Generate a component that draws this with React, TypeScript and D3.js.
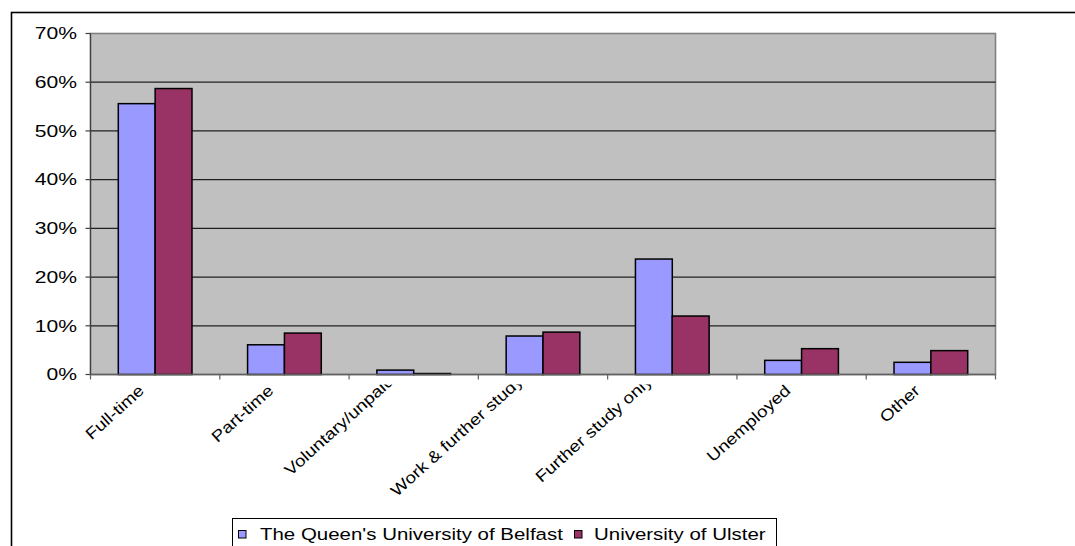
import React from "react";
import * as d3 from "d3";

const categories = [
  "Full-time",
  "Part-time",
  "Voluntary/unpaid",
  "Work & further study",
  "Further study only",
  "Unemployed",
  "Other",
];
const seriesNames = ["The Queen's University of Belfast", "University of Ulster"];
const queensValues = [0.556, 0.061, 0.009, 0.079, 0.237, 0.029, 0.025];
const ulsterValues = [0.587, 0.085, 0.002, 0.087, 0.12, 0.053, 0.049];
const seriesColors = ["#9999FF", "#993366"];
const yTicks = [0, 0.1, 0.2, 0.3, 0.4, 0.5, 0.6, 0.7];

const W = 1075;
const H = 546;
const M = { left: 90.5, right: 995.5, top: 33.5, bottom: 374.5 };
const FONT = "Arial, 'Liberation Sans', sans-serif";
const FS = 16.5;
const SX = 1.28;
const XFS = 16;
const XSX = 1.18;
const LSX = 1.24;

function measure(text: string, size: number): number {
  if (typeof document === "undefined") return text.length * size * 0.5;
  const c = document.createElement("canvas");
  const ctx = c.getContext("2d");
  if (!ctx) return text.length * size * 0.5;
  ctx.font = `${size}px Arial, 'Liberation Sans', sans-serif`;
  return ctx.measureText(text).width;
}

export default function App() {
  const x = d3
    .scaleBand<string>()
    .domain(categories)
    .range([M.left, M.right])
    .paddingInner(0.43)
    .paddingOuter(0.215);
  const step = x.step();
  const xs = d3
    .scaleBand<number>()
    .domain([0, 1])
    .range([0, x.bandwidth()]);
  const y = d3.scaleLinear().domain([0, 0.7]).range([M.bottom, M.top]);
  const series = [queensValues, ulsterValues];
  const fmt = d3.format(".0%");

  return (
    <svg
      width={W}
      height={H}
      style={{ position: "absolute", left: 0, top: 0, background: "#fff" }}
      fontFamily={FONT}
    >
      <defs>
        <clipPath id="labClip">
          <rect x={0} y={384.5} width={W} height={H} />
        </clipPath>
      </defs>
      {/* outer chart border */}
      <rect x={11.5} y={12.5} width={W} height={H} fill="none" stroke="#000" strokeWidth={1.6} />
      {/* plot area */}
      <rect
        x={M.left}
        y={M.top}
        width={M.right - M.left}
        height={M.bottom - M.top}
        fill="#C0C0C0"
        stroke="#808080"
        strokeWidth={1.6}
      />
      {/* gridlines */}
      {yTicks.slice(1, -1).map((t) => (
        <line
          key={"g" + t}
          x1={M.left}
          x2={M.right}
          y1={y(t)}
          y2={y(t)}
          stroke="#202020"
          strokeWidth={1.2}
        />
      ))}
      {/* bars */}
      {series.map((vals, si) =>
        vals.map((v, i) => (
          <rect
            key={si + "-" + i}
            x={(x(categories[i]) as number) + (xs(si) as number)}
            y={y(v)}
            width={xs.bandwidth()}
            height={y(0) - y(v)}
            fill={seriesColors[si]}
            stroke="#000"
            strokeWidth={1.5}
          />
        ))
      )}
      {/* y axis */}
      <line x1={M.left} x2={M.left} y1={M.top} y2={M.bottom} stroke="#404040" strokeWidth={1.2} />
      {yTicks.map((t) => (
        <g key={"y" + t}>
          <line x1={M.left - 5} x2={M.left} y1={y(t)} y2={y(t)} stroke="#404040" strokeWidth={1.2} />
          <text
            transform={`translate(77,${y(t)}) scale(${SX},1)`}
            dy="0.35em"
            textAnchor="end"
            fontSize={FS}
            fill="#000"
          >
            {fmt(t)}
          </text>
        </g>
      ))}
      {/* x axis */}
      <line x1={M.left} x2={M.right} y1={M.bottom} y2={M.bottom} stroke="#606060" strokeWidth={1.4} />
      {d3.range(categories.length + 1).map((i) => (
        <line
          key={"xt" + i}
          x1={M.left + i * step}
          x2={M.left + i * step}
          y1={M.bottom}
          y2={M.bottom + 5}
          stroke="#606060"
          strokeWidth={1.2}
        />
      ))}
      <g clipPath="url(#labClip)">
        {categories.map((c) => {
          const cx = (x(c) as number) + x.bandwidth() / 2;
          const len = measure(c, XFS) * XSX;
          // overflowing labels are pushed up-left and cut at the axis, as in the source
          const shift = len > step ? -13 : 0;
          return (
            <text
              key={"xl" + c}
              transform={`translate(${cx - 10},${392}) rotate(-42) translate(0,${shift}) scale(${XSX},1)`}
              textAnchor="end"
              fontSize={XFS}
              fill="#000"
            >
              {c}
            </text>
          );
        })}
      </g>
      {/* legend */}
      <rect x={232.5} y={518.5} width={544} height={40} fill="#fff" stroke="#000" strokeWidth={1} />
      <rect x={238.5} y={530.5} width={7.5} height={7.5} fill={seriesColors[0]} stroke="#000" strokeWidth={1} />
      <text transform={`translate(260,540) scale(${LSX},1)`} fontSize={FS} fill="#000">
        {seriesNames[0]}
      </text>
      <rect x={574.5} y={530.5} width={7.5} height={7.5} fill={seriesColors[1]} stroke="#000" strokeWidth={1} />
      <text transform={`translate(594,540) scale(${LSX},1)`} fontSize={FS} fill="#000">
        {seriesNames[1]}
      </text>
    </svg>
  );
}
